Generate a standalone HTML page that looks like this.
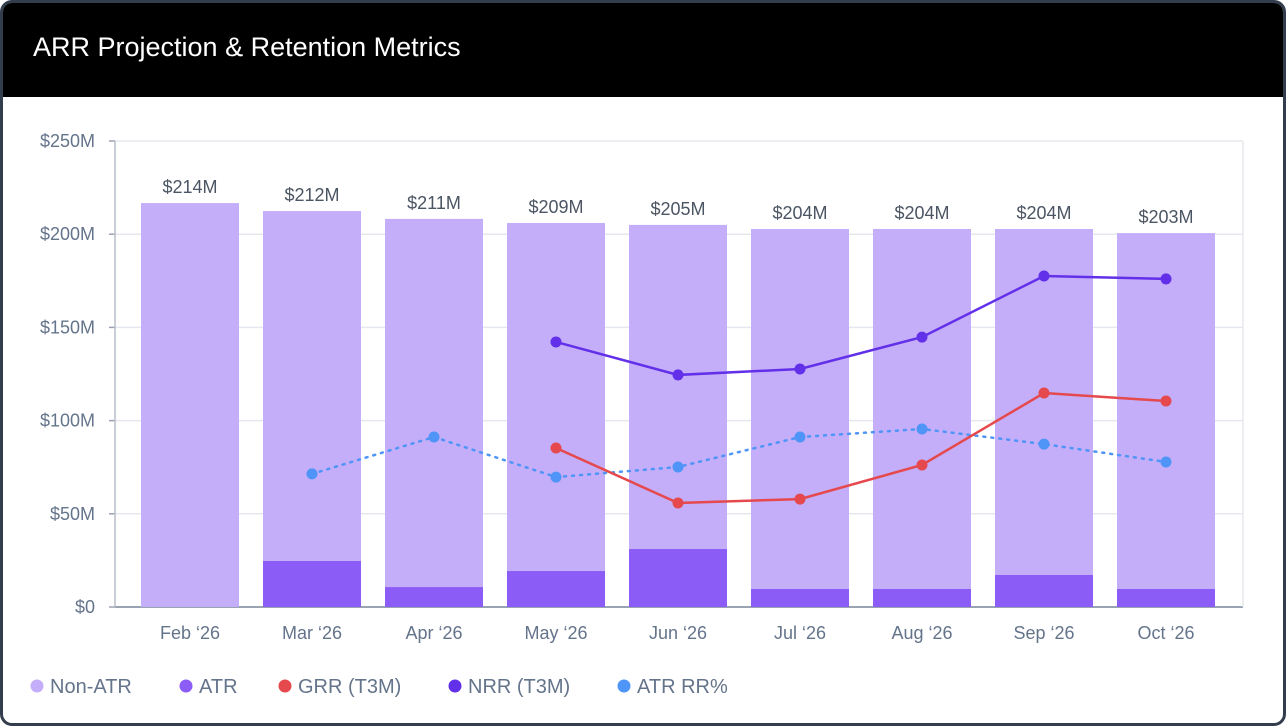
<!DOCTYPE html>
<html><head><meta charset="utf-8"><style>
html,body{margin:0;padding:0;background:#fff;}
#card{position:absolute;left:0;top:0;width:1280px;height:720px;border:3px solid #333d4d;border-radius:12px;overflow:hidden;background:#fff;}
#hdr{position:absolute;left:0;top:0;width:100%;height:94px;background:#000;}
#title{position:absolute;left:30px;top:29px;color:#fff;font:500 27px "Liberation Sans",sans-serif;}
svg text{font-family:"Liberation Sans",sans-serif;}
</style></head><body>
<div id="card">
<div id="hdr"><div id="title">ARR Projection &amp; Retention Metrics</div></div>
</div>
<svg id="chart" width="1286" height="726" style="position:absolute;left:0;top:0"></svg>
<script>
const categories=["Feb ‘26","Mar ‘26","Apr ‘26","May ‘26","Jun ‘26","Jul ‘26","Aug ‘26","Sep ‘26","Oct ‘26"];
const totalLabels=["$214M","$212M","$211M","$209M","$205M","$204M","$204M","$204M","$203M"];
const totals=[216.7,212.4,208.2,206,205,202.8,202.8,202.8,200.6];
const atr=[0,24.7,10.7,19.3,31.1,9.7,9.7,17.2,9.7];
const nrr=[null,null,null,142.2,124.5,127.7,144.8,177.6,176];
const grr=[null,null,null,85.3,55.8,57.9,76.2,114.8,110.5];
const atrRR=[null,71.4,91.2,69.7,75.1,91.2,95.5,87.4,77.8];
const yTicks=[0,50,100,150,200,250];
const yTickLabels=["$0","$50M","$100M","$150M","$200M","$250M"];
const NS="http://www.w3.org/2000/svg";
const svg=document.getElementById('chart');
const L=115,R=1243,T=141,B=607;
const y=v=>B-(v/250)*(B-T);
const x=i=>190+122*i;
const BW=98;
function mk(t,a,p){const e=document.createElementNS(NS,t);for(const k in a)e.setAttribute(k,a[k]);(p||svg).appendChild(e);return e;}
yTicks.forEach((t,i)=>{
  const g=mk('line',{x1:L,x2:R,y1:y(t),y2:y(t),stroke:t===0?'#9aa3b2':'#e5e8ee','stroke-width':t===0?2:1.5});
  
  
  mk('line',{x1:L-6,x2:L,y1:y(t),y2:y(t),stroke:'#9aa3b2','stroke-width':1.5});
  const tx=mk('text',{x:95,y:y(t)+6,'text-anchor':'end','font-size':18,fill:'#64748b'});
  tx.textContent=yTickLabels[i];
  
  
});
mk('line',{x1:L,x2:L,y1:T,y2:B,stroke:'#b8bfca','stroke-width':1.5});
mk('line',{x1:R,x2:R,y1:T,y2:B,stroke:'#e5e8ee','stroke-width':1.5});
categories.forEach((c,i)=>{
  const b1=mk('rect',{x:x(i)-BW/2,y:y(totals[i]),width:BW,height:y(atr[i])-y(totals[i]),fill:'#c4aef9'});
  
  
  if(atr[i]>0){const b2=mk('rect',{x:x(i)-BW/2,y:y(atr[i]),width:BW,height:B-y(atr[i]),fill:'#8b5cf6'});
  
  }
  const tl=mk('text',{x:x(i),y:y(totals[i])-10,'text-anchor':'middle','font-size':18,fill:'#4b5563'});
  tl.textContent=totalLabels[i];
  
  
  const xl=mk('text',{x:x(i),y:639,'text-anchor':'middle','font-size':18,fill:'#64748b'});
  xl.textContent=c;
  
  
});
function series(arr,color,dash,name){
  const pts=[];arr.forEach((v,i)=>{if(v!=null)pts.push([x(i),y(v)]);});
  const p=mk('polyline',{points:pts.map(p=>p.join(',')).join(' '),fill:'none',stroke:color,'stroke-width':2.5,'stroke-dasharray':dash||'','stroke-linecap':'round'});
  
  
  pts.forEach(q=>{const c=mk('circle',{cx:q[0],cy:q[1],r:5.5,fill:color});
  
  });
}
series(atrRR,'#4f94f7','2 6','atr-rr');
series(grr,'#e5484d','','grr');
series(nrr,'#6330ea','','nrr');
const legend=[["Non-ATR","#c4aef9",37],["ATR","#8b5cf6",186],["GRR (T3M)","#e5484d",285],["NRR (T3M)","#6330ea",455],["ATR RR%","#4f94f7",624]];
legend.forEach(l=>{
  const g=mk('g',{});
  
  
  mk('circle',{cx:l[2],cy:686,r:6.5,fill:l[1]},g);
  const t=mk('text',{x:l[2]+13,y:693,'font-size':20,fill:'#64748b'},g);t.textContent=l[0];
});
</script>
</body></html>
